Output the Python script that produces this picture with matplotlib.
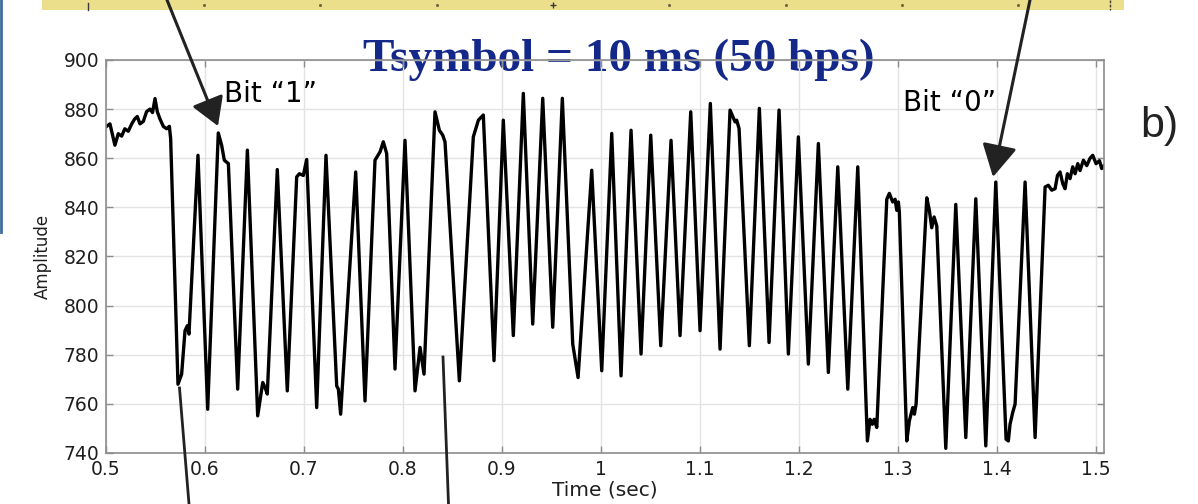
import matplotlib
matplotlib.use("Agg")
import matplotlib.pyplot as plt
import numpy as np

# --- data (time in s, amplitude in counts) ---
# idle carrier before the burst
t_pre = [0.5000, 0.5040, 0.5057, 0.5090, 0.5124, 0.5158, 0.5190, 0.5225, 0.5260, 0.5290,
         0.5316, 0.5343, 0.5377, 0.5410, 0.5444, 0.5470, 0.5495, 0.5518, 0.5545, 0.5580,
         0.5613, 0.5640, 0.5653]
a_pre = [872.8, 874.0, 871.0, 865.3, 870.0, 869.0, 872.0, 871.0, 874.0, 876.0,
         877.0, 874.0, 875.0, 879.0, 880.0, 878.6, 884.3, 879.0, 876.0, 872.9,
         872.0, 873.0, 868.0]

# modulated symbols
t_sym = [0.5727, 0.5764, 0.5798, 0.5821, 0.5838, 0.5929, 0.6027, 0.6134, 0.6168, 0.6195,
         0.6236, 0.6330, 0.6428, 0.6532, 0.6583, 0.6606, 0.6629, 0.6730, 0.6831, 0.6926,
         0.6953, 0.6993, 0.7027, 0.7128, 0.7222, 0.7330, 0.7347, 0.7370, 0.7522, 0.7616,
         0.7717, 0.7768, 0.7801, 0.7835, 0.7919, 0.8020, 0.8121, 0.8172, 0.8212, 0.8323,
         0.8367, 0.8401, 0.8424, 0.8569, 0.8710, 0.8761, 0.8811, 0.8919, 0.9013, 0.9114,
         0.9215, 0.9310, 0.9411, 0.9512, 0.9609, 0.9714, 0.9768, 0.9906, 1.0007, 1.0108,
         1.0202, 1.0303, 1.0404, 1.0502, 1.0603, 1.0707, 1.0798, 1.0906, 1.1000, 1.1104,
         1.1202, 1.1303, 1.1354, 1.1370, 1.1394, 1.1498, 1.1599, 1.1697, 1.1798, 1.1892,
         1.1993, 1.2094, 1.2195, 1.2296, 1.2391, 1.2492, 1.2593, 1.2690, 1.2717, 1.2740,
         1.2758, 1.2785, 1.2886, 1.2912, 1.2946, 1.2970, 1.2987, 1.3003, 1.3013, 1.3088,
         1.3114, 1.3148, 1.3165, 1.3182, 1.3290, 1.3316, 1.3340, 1.3364, 1.3391, 1.3482,
         1.3583, 1.3684, 1.3785, 1.3886, 1.3987, 1.4091, 1.4114, 1.4131, 1.4158, 1.4182,
         1.4283, 1.4384]
a_sym = [768.0, 772.1, 789.8, 791.8, 788.4, 861.2, 757.8, 870.3, 865.3, 859.2,
         857.8, 766.0, 863.3, 755.1, 768.7, 766.7, 764.0, 855.4, 765.3, 852.4,
         853.7, 853.0, 859.5, 758.5, 861.2, 767.3, 766.0, 755.8, 854.4, 761.2,
         859.2, 862.6, 866.7, 861.9, 774.2, 867.3, 765.3, 783.0, 772.1, 878.9,
         871.4, 869.4, 866.7, 769.4, 868.7, 875.5, 877.6, 777.6, 875.5, 787.8,
         886.4, 792.5, 884.4, 791.2, 884.4, 784.4, 770.7, 855.1, 773.5, 870.1,
         771.4, 871.4, 780.3, 869.4, 783.7, 867.3, 787.8, 878.9, 789.8, 882.3,
         782.3, 879.6, 874.8, 875.5, 872.1, 783.7, 880.3, 785.0, 879.6, 780.3,
         868.7, 776.2, 866.0, 772.8, 856.5, 766.0, 856.5, 744.9, 753.7, 751.7,
         753.7, 750.4, 843.3, 845.7, 842.2, 843.3, 838.8, 842.2, 838.1, 744.9,
         753.1, 758.5, 755.8, 759.9, 843.9, 838.8, 831.7, 836.1, 832.4, 741.9,
         841.2, 746.3, 843.5, 742.9, 850.3, 745.6, 744.9, 751.7, 756.5, 759.9,
         850.3, 746.3]

# carrier after the burst
t_post = [1.4485, 1.4518, 1.4552, 1.4586, 1.4610, 1.4636, 1.4664, 1.4687, 1.4710, 1.4737,
          1.4764, 1.4788, 1.4815, 1.4838, 1.4872, 1.4906, 1.4939, 1.4966, 1.5000, 1.5034,
          1.5057, 1.5080]
a_post = [848.3, 849.0, 847.0, 847.6, 853.0, 854.4, 849.6, 847.6, 853.7, 851.7,
          856.5, 853.7, 857.8, 855.0, 859.2, 857.0, 860.0, 861.2, 857.8, 859.0,
          855.8, 857.0]

x_ticks = [0.5, 0.6, 0.7, 0.8, 0.9, 1.0, 1.1, 1.2, 1.3, 1.4, 1.5]
x_labels = ["0.5", "0.6", "0.7", "0.8", "0.9", "1", "1.1", "1.2", "1.3", "1.4", "1.5"]
y_ticks = [740, 760, 780, 800, 820, 840, 860, 880, 900]

t = np.array(t_pre + t_sym + t_post)
amp = np.array(a_pre + a_sym + a_post)

W, H = 1198, 504
fig = plt.figure(figsize=(W / 100, H / 100), dpi=100)
fig.patch.set_facecolor("white")

# main MATLAB-style axes
ax = fig.add_axes([106 / W, 1 - 453 / H, (1104 - 106) / W, (453 - 60) / H])
ax.set_facecolor("none")
ax.plot(t, amp, color="black", lw=2.4, solid_joinstyle="round")
ax.set_xlim(0.5, 1.508)
ax.set_ylim(740, 900)
ax.set_xticks(x_ticks)
ax.set_xticklabels(x_labels)
ax.set_yticks(y_ticks)
ax.grid(True, color="#e3e3e3", lw=1.0)
ax.set_axisbelow(True)
for s in ax.spines.values():
    s.set_color("#8c8c8c")
    s.set_linewidth(1.2)
ax.tick_params(direction="in", length=5, width=1.0, color="#8c8c8c",
               top=True, right=True, labelsize=13.5, labelcolor="#1e1e1e", pad=5)
for lab in ax.get_xticklabels() + ax.get_yticklabels():
    lab.set_family("DejaVu Sans")
ax.set_xlabel("Time (sec)", fontsize=14.5, family="DejaVu Sans", color="#1e1e1e", labelpad=1)
ax.set_ylabel("Amplitude", fontsize=12, family="DejaVu Sans", color="#1e1e1e", labelpad=8)

# slide title sits under the axes frame
fig.text(619 / W, 1 - 71 / H, "Tsymbol = 10 ms (50 bps)", ha="center", va="baseline",
         family="Liberation Serif", weight="bold", fontsize=34, color="#14288a", zorder=-1)

# overlay in pixel coordinates for slide decorations
deco = fig.add_axes([0, 0, 1, 1], zorder=5)
deco.set_xlim(0, W)
deco.set_ylim(H, 0)
deco.axis("off")
deco.patch.set_alpha(0)

# yellow ruler strip at the top
deco.add_patch(plt.Rectangle((42, 0), 1124 - 42, 9.5, color="#ebdf8c", lw=0))
deco.plot([204, 320, 437, 669, 786, 902, 1018], [5] * 7, ls="none", marker="o",
          ms=1.2, color="#6b6640")
deco.plot([88, 88], [3, 9.5], color="#3a3a3a", lw=1)
deco.plot([553], [4.5], marker="+", ms=5, color="#3a3a3a", mew=1)
deco.plot([1110, 1110], [0, 9.5], color="#3a3a3a", lw=1, ls=(0, (2, 1)))

# blue slide edge
deco.plot([1, 1], [0, 232], color="#3d6b9c", lw=2)

# arrows and pointer lines
deco.annotate("", xy=(218, 126), xytext=(167, 0),
              arrowprops=dict(arrowstyle="-|>,head_length=1.0,head_width=0.6",
                              mutation_scale=17, lw=2.2, color="#222222",
                              shrinkA=0, shrinkB=0))
deco.annotate("", xy=(993, 177), xytext=(1030, 0),
              arrowprops=dict(arrowstyle="-|>,head_length=1.1,head_width=0.6",
                              mutation_scale=18, lw=2.2, color="#222222",
                              shrinkA=0, shrinkB=0))
deco.plot([179.5, 189], [388, 504], color="#222222", lw=2.0)
deco.plot([443, 448.5], [357, 504], color="#222222", lw=2.0)

deco.text(224, 102, "Bit \u201c1\u201d", fontsize=20, family="DejaVu Sans", va="baseline",
          color="black")
deco.text(903, 111, "Bit \u201c0\u201d", fontsize=20, family="DejaVu Sans", va="baseline",
          color="black")
deco.text(1140, 137, "b)", fontsize=31, family="Liberation Sans", va="baseline",
          color="#222222")

fig.savefig("out.png", dpi=100)
